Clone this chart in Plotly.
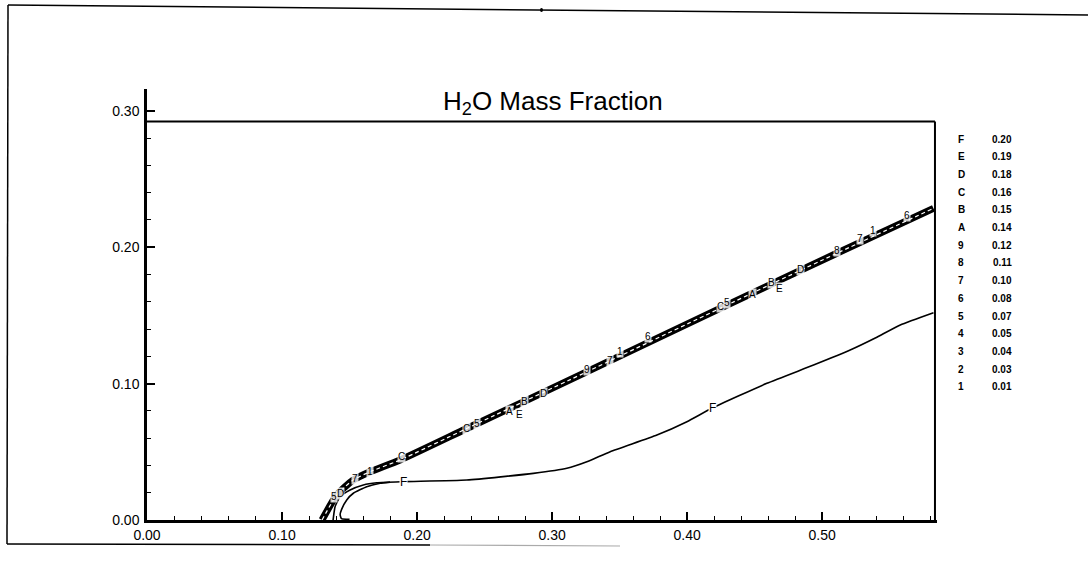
import plotly.graph_objects as go

# ---- data (data units) ----
bundle_x = [0.1296, 0.1405, 0.1526, 0.1652, 0.1874, 0.2368, 0.3232, 0.4244, 0.5081, 0.5824]
bundle_y = [0.0000, 0.0183, 0.0293, 0.0354, 0.0440, 0.0671, 0.1075, 0.1552, 0.1943, 0.2285]

f_main_x = [0.1378, 0.1393, 0.1430, 0.1504, 0.1602, 0.1701, 0.1896, 0.2368, 0.2861, 0.3109,
            0.3257, 0.3430, 0.3776, 0.3998, 0.4183, 0.4590, 0.4936, 0.5207, 0.5393, 0.5578, 0.5824]
f_main_y = [0.0000, 0.0098, 0.0171, 0.0220, 0.0257, 0.0273, 0.0281, 0.0293, 0.0342, 0.0379,
            0.0427, 0.0501, 0.0623, 0.0721, 0.0819, 0.1002, 0.1136, 0.1246, 0.1334, 0.1430, 0.1520]

f_inner_x = [0.1500, 0.1440, 0.1430, 0.1442, 0.1479, 0.1528, 0.1627, 0.1726, 0.1800]
f_inner_y = [0.0005, 0.0010, 0.0040, 0.0080, 0.0147, 0.0196, 0.0244, 0.0269, 0.0278]

bundle_lab_text = ["5", "D", "7", "1", "C", "C", "5", "A", "E", "B", "D", "9", "7", "1", "6",
                   "C", "5", "A", "B", "E", "D", "8", "7", "1", "6"]
bundle_lab_x = [0.1385, 0.1430, 0.1541, 0.1652, 0.1881, 0.2363, 0.2444, 0.2681, 0.2756, 0.2793,
                0.2933, 0.3259, 0.3430, 0.3504, 0.3711, 0.4244, 0.4296, 0.4481, 0.4622, 0.4681,
                0.4837, 0.5111, 0.5281, 0.5378, 0.5630]
bundle_lab_y = [0.0169, 0.0191, 0.0301, 0.0359, 0.0469, 0.0674, 0.0704, 0.0799, 0.0777, 0.0872,
                0.0931, 0.1100, 0.1166, 0.1232, 0.1342, 0.1562, 0.1598, 0.1650, 0.1738, 0.1694,
                0.1833, 0.1979, 0.2067, 0.2126, 0.2229]

f_lab_x = [0.1896, 0.4185]
f_lab_y = [0.0279, 0.0821]

level_names = ["F", "E", "D", "C", "B", "A", "9", "8", "7", "6", "5", "4", "3", "2", "1"]
level_values = ["0.20", "0.19", "0.18", "0.16", "0.15", "0.14", "0.12", "0.11", "0.10",
                "0.08", "0.07", "0.05", "0.04", "0.03", "0.01"]

x_ticks = [0.0, 0.1, 0.2, 0.3, 0.4, 0.5]
y_ticks = [0.0, 0.1, 0.2, 0.3]

X_MAX = 0.585
Y_MAX = 0.316
BOX_TOP = 0.2922
BOX_RIGHT = 0.5835

W, H = 1088, 573
ML, MR, MT, MB = 147, 151, 89, 53
PW = W - ML - MR
PH = H - MT - MB


def px(xp):
    return (xp - ML) / PW


def py(yp):
    return (H - MB - yp) / PH


FONT = "Liberation Sans, Arial, sans-serif"

fig = go.Figure()

# contour bundle (levels 1..E nearly coincide)
fig.add_trace(go.Scatter(x=bundle_x, y=bundle_y, mode="lines",
                         line=dict(color="black", width=7, shape="spline", smoothing=0.6),
                         hoverinfo="skip", showlegend=False))
fig.add_trace(go.Scatter(x=bundle_x, y=bundle_y, mode="lines",
                         line=dict(color="white", width=1.2, dash="4px,3px", shape="spline", smoothing=0.6),
                         hoverinfo="skip", showlegend=False))
# level F
fig.add_trace(go.Scatter(x=f_main_x, y=f_main_y, mode="lines",
                         line=dict(color="black", width=1.6, shape="spline", smoothing=0.5),
                         hoverinfo="skip", showlegend=False))
fig.add_trace(go.Scatter(x=f_inner_x, y=f_inner_y, mode="lines",
                         line=dict(color="black", width=1.6, shape="spline", smoothing=0.5),
                         hoverinfo="skip", showlegend=False))

annotations = []
for t, xv, yv in zip(bundle_lab_text, bundle_lab_x, bundle_lab_y):
    annotations.append(dict(x=xv, y=yv, xref="x", yref="y", text=t, showarrow=False,
                            xanchor="center", yanchor="middle",
                            font=dict(family=FONT, size=10, color="black"),
                            bgcolor="rgba(255,255,255,0.8)", borderpad=0))
for xv, yv in zip(f_lab_x, f_lab_y):
    annotations.append(dict(x=xv, y=yv, xref="x", yref="y", text="F", showarrow=False,
                            xanchor="center", yanchor="middle",
                            font=dict(family=FONT, size=12, color="black"),
                            bgcolor="white", borderpad=0))

# level legend on the right
for i, (n, v) in enumerate(zip(level_names, level_values)):
    yy = py(139 + i * 17.7)
    annotations.append(dict(x=px(961), y=yy, xref="paper", yref="paper", text="<b>%s</b>" % n,
                            showarrow=False, xanchor="center", yanchor="middle",
                            font=dict(family=FONT, size=10, color="black")))
    annotations.append(dict(x=px(1002), y=yy, xref="paper", yref="paper", text="<b>%s</b>" % v,
                            showarrow=False, xanchor="center", yanchor="middle",
                            font=dict(family=FONT, size=10, color="black")))

# title
annotations.append(dict(x=px(553), y=py(102), xref="paper", yref="paper",
                        text="H<sub>2</sub>O Mass Fraction", showarrow=False,
                        xanchor="center", yanchor="middle",
                        font=dict(family=FONT, size=26, color="black")))

shapes = [
    # plot box top and right
    dict(type="line", xref="x", yref="y", x0=0, x1=BOX_RIGHT, y0=BOX_TOP, y1=BOX_TOP,
         line=dict(color="black", width=2)),
    dict(type="line", xref="x", yref="y", x0=BOX_RIGHT, x1=BOX_RIGHT, y0=0, y1=BOX_TOP,
         line=dict(color="black", width=2)),
    # page frame
    dict(type="line", xref="paper", yref="paper", x0=px(8), y0=py(5), x1=px(1088), y1=py(15),
         line=dict(color="black", width=1.5)),
    dict(type="line", xref="paper", yref="paper", x0=px(8), y0=py(5), x1=px(7), y1=py(544),
         line=dict(color="black", width=1.5)),
    dict(type="line", xref="paper", yref="paper", x0=px(7), y0=py(544), x1=px(430), y1=py(545),
         line=dict(color="black", width=1.5)),
    dict(type="line", xref="paper", yref="paper", x0=px(430), y0=py(545), x1=px(620), y1=py(546),
         line=dict(color="#aaaaaa", width=1.2)),
    # speck
    dict(type="circle", xref="paper", yref="paper", x0=px(540), x1=px(543), y0=py(8), y1=py(12),
         fillcolor="black", line=dict(width=0)),
]

fig.update_layout(
    width=W, height=H,
    margin=dict(l=ML, r=MR, t=MT, b=MB),
    plot_bgcolor="white", paper_bgcolor="white",
    annotations=annotations, shapes=shapes,
    showlegend=False,
    xaxis=dict(range=[0, X_MAX], tickvals=x_ticks, tickformat=".2f",
               showgrid=False, zeroline=False, showline=True, linecolor="black", linewidth=2.5,
               ticks="inside", ticklen=8, tickwidth=1.5, tickcolor="black",
               minor=dict(dtick=0.02, ticks="inside", ticklen=4, tickwidth=1.2, tickcolor="black",
                          showgrid=False),
               tickfont=dict(family=FONT, size=14, color="black"), fixedrange=True),
    yaxis=dict(range=[0, Y_MAX], tickvals=y_ticks, tickformat=".2f",
               showgrid=False, zeroline=False, showline=True, linecolor="black", linewidth=2.5,
               ticks="inside", ticklen=8, tickwidth=1.5, tickcolor="black",
               ticklabelstandoff=2,
               minor=dict(dtick=0.02, ticks="inside", ticklen=4, tickwidth=1.2, tickcolor="black",
                          showgrid=False),
               tickfont=dict(family=FONT, size=14, color="black"), fixedrange=True),
)

fig.write_html("out.html")
